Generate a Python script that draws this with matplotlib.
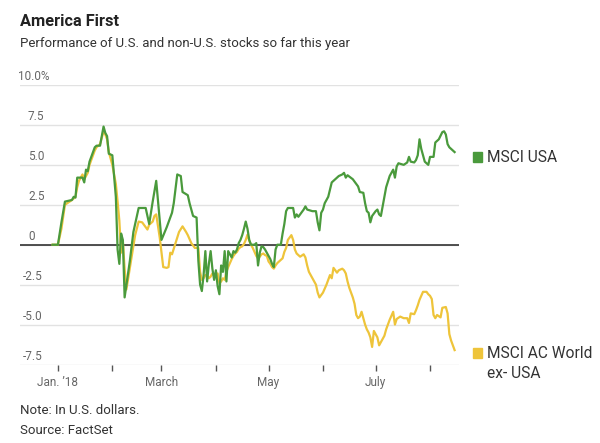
import pandas as pd
import matplotlib
matplotlib.use('Agg')
import matplotlib.pyplot as plt
import matplotlib.transforms as mtransforms

plt.rcParams['font.family'] = ['Roboto', 'DejaVu Sans']

# days counted from Jan. 1, 2018
usa_days = [-3, 0, 2, 4, 8, 9, 10, 11, 14, 15, 16, 17, 18, 21, 22, 24, 26, 27, 28, 29,
            31, 33, 34, 35, 36, 37, 38, 41, 43, 46, 50, 52, 54, 56, 59, 62, 65, 66, 68,
            70, 71, 74, 75, 77, 79, 80, 81, 82, 83, 84, 85, 86, 87, 88, 89, 90, 91, 92,
            93, 94, 95, 96, 97, 98, 99, 100, 101, 102, 103, 104, 105, 106, 107, 108, 109,
            110, 111, 112, 113, 114, 115, 116, 117, 118, 119, 120, 121, 122, 123, 124, 125,
            126, 127, 128, 129, 130, 131, 134, 135, 136, 137, 140, 141, 142, 145, 147, 148,
            149, 150, 151, 152, 154, 156, 158, 160, 162, 163, 164, 165, 168, 170, 171, 172,
            174, 175, 176, 177, 178, 179, 181, 182, 183, 184, 185, 187, 189, 191, 192, 193,
            194, 197, 199, 200, 201, 203, 204, 205, 206, 207, 209, 211, 212, 214, 215, 217,
            219, 220, 221, 222, 223, 226]
usa_vals = [0.0, 0.0, 1.4, 2.7, 2.8, 3.0, 2.95, 4.2, 4.2, 3.9, 4.7, 4.6, 5.2, 6.1, 6.2, 6.2,
            7.4, 7.0, 6.8, 5.7, 5.6, 3.0, -0.3, -1.2, 0.7, 0.3, -3.3, -1.0, 0.8, 2.3, 2.3, 1.3,
            2.7, 4.0, 0.3, 1.1, 2.0, 2.6, 4.4, 4.3, 3.3, 3.1, 2.6, 1.8, 1.7, -1.0, -2.5, -2.9,
            -1.9, -0.4, -2.3, -1.2, -0.4, -1.5, -2.2, -1.6, -2.6, -3.1, -1.3, -1.7, -0.4, -2.3,
            -0.4, -0.6, -0.8, -0.4, -0.5, -0.3, 0.1, 0.3, 0.6, 1.0, 1.45, 1.0, 0.3, 0.0, 0.0,
            0.0, 0.1, -1.3, -0.5, -0.1, -0.15, -0.3, -0.5, -0.7, -0.9, -1.2, -1.4, -0.3, 0.0,
            0.0, 0.0, 0.7, 1.3, 2.1, 2.3, 2.3, 1.7, 1.9, 1.75, 2.2, 2.4, 2.2, 2.1, 2.1, 1.4,
            0.9, 2.0, 2.2, 2.6, 3.0, 3.9, 4.1, 4.3, 4.4, 4.5, 4.2, 4.35, 4.1, 3.8, 3.65, 3.3,
            3.25, 2.6, 2.1, 2.0, 1.4, 1.8, 2.1, 2.2, 1.9, 1.8, 2.4, 3.6, 4.3, 4.7, 4.2, 4.9,
            5.1, 5.0, 5.15, 5.5, 5.2, 5.15, 5.3, 5.6, 6.6, 6.0, 5.2, 5.0, 5.5, 5.5, 6.4, 6.6,
            7.05, 7.1, 6.9, 6.3, 6.1, 5.8]

world_days = [-3, 0, 2, 4, 8, 10, 11, 12, 14, 15, 17, 18, 21, 22, 24, 26, 27, 28, 29, 31,
              33, 34, 35, 36, 37, 38, 39, 44, 46, 48, 50, 51, 52, 54, 55, 56, 58, 60, 62, 63,
              64, 65, 67, 69, 71, 73, 74, 76, 78, 80, 81, 82, 83, 84, 85, 86, 87, 88, 89, 90,
              91, 92, 93, 94, 95, 96, 97, 98, 99, 100, 101, 102, 103, 104, 105, 106, 107, 108,
              109, 110, 111, 112, 113, 114, 115, 116, 117, 118, 119, 120, 121, 122, 123, 124,
              125, 126, 127, 128, 129, 130, 131, 133, 134, 135, 136, 138, 140, 141, 142, 143,
              145, 147, 148, 149, 151, 153, 155, 156, 157, 159, 160, 162, 163, 164, 165, 166,
              168, 169, 170, 171, 172, 173, 174, 175, 176, 177, 178, 179, 180, 181, 182, 183,
              184, 185, 186, 187, 188, 189, 191, 192, 193, 195, 197, 199, 200, 201, 203, 204,
              205, 206, 208, 210, 211, 212, 213, 214, 215, 216, 218, 219, 221, 222, 223, 224,
              225, 226]
world_vals = [0.0, 0.0, 1.0, 2.5, 2.8, 3.0, 3.6, 4.0, 4.4, 4.1, 4.5, 5.0, 5.9, 6.1, 6.3,
              7.1, 6.9, 6.6, 5.8, 5.0, 3.8, 2.7, 1.5, -0.5, 0.2, -1.5, -2.8, 0.6, 1.45, 1.4,
              1.1, 0.95, 1.25, 1.45, 1.8, 1.9, 0.45, -1.4, -1.45, -1.4, -0.5, -0.6, 0.1, 0.8,
              1.15, 0.8, 0.6, 0.1, -0.2, -0.2, -1.7, -2.2, -2.1, -1.9, -1.9, -2.1, -2.0, -1.8,
              -1.9, -1.85, -1.8, -2.4, -2.3, -2.1, -2.2, -1.7, -1.4, -1.15, -0.9, -0.7, -0.55,
              -0.45, -0.25, -0.15, -0.1, 0.05, 0.3, 0.63, 0.25, 0.0, -0.2, -0.45, -0.7, -0.85,
              -0.75, -0.6, -0.55, -0.65, -0.7, -1.05, -1.2, -1.4, -1.5, -1.3, -1.15, -1.05,
              -0.95, -0.85, -0.45, -0.2, 0.3, 0.6, 0.3, -0.3, -0.55, -0.75, -0.6, -0.8, -1.3,
              -1.7, -2.1, -2.5, -3.0, -3.3, -3.0, -2.5, -1.9, -2.1, -1.45, -1.75, -1.6, -1.5,
              -1.6, -1.8, -2.3, -2.7, -3.3, -3.7, -4.4, -4.6, -4.5, -4.2, -4.6, -5.0, -5.3,
              -5.5, -5.8, -6.4, -5.4, -5.6, -5.8, -6.3, -6.1, -5.9, -5.7, -5.3, -5.0, -4.7,
              -4.2, -5.0, -4.65, -4.5, -4.6, -4.6, -4.9, -4.3, -4.35, -4.1, -3.8, -3.45, -2.95,
              -2.95, -3.1, -3.2, -3.4, -4.4, -4.6, -4.4, -4.55, -3.95, -3.9, -4.3, -5.6, -6.0,
              -6.3, -6.6]

y_ticks = [-7.5, -5.0, -2.5, 0, 2.5, 5.0, 7.5, 10.0]
y_labels = ['-7.5', '-5.0', '-2.5', '0', '2.5', '5.0', '7.5', '10.0%']
month_ticks = ['2018-01-01', '2018-02-01', '2018-03-01', '2018-04-01',
               '2018-05-01', '2018-06-01', '2018-07-01', '2018-08-01']
month_labels = ['Jan. \u201918', '', 'March', '', 'May', '', 'July', '']

green = '#4a9a3c'
yellow = '#eec43a'
gray = '#666666'

start = pd.Timestamp('2018-01-01')
usa_dates = start + pd.to_timedelta(usa_days, unit='D')
world_dates = start + pd.to_timedelta(world_days, unit='D')

fig = plt.figure(figsize=(6, 4.43), dpi=100)
ax = fig.add_axes([20 / 600, 1 - 364.5 / 443, 439 / 600, 279.5 / 443])

for v in y_ticks:
    ax.axhline(v, color='#e2e2e2', lw=1, zorder=0)
ax.axhline(0, color='#333333', lw=1.2, zorder=3)

ax.plot(world_dates, world_vals, color=yellow, lw=1.6, zorder=4)
ax.plot(usa_dates, usa_vals, color=green, lw=1.6, zorder=5)

ax.set_xlim(start - pd.Timedelta(days=21.6), start + pd.Timedelta(days=228.5))
ax.set_ylim(-7.5, 10.0)

for s in ax.spines.values():
    s.set_visible(False)
ax.set_yticks([])
ax.set_xticks(pd.to_datetime(month_ticks))
ax.set_xticklabels(month_labels)
ax.tick_params(axis='x', length=4, width=1, color='#555555', pad=4,
               labelsize=8.5, labelcolor=gray)

# y labels sit above the gridlines; minus signs hang to the left
trans = mtransforms.blended_transform_factory(fig.transFigure, ax.transData)
for v, lab in zip(y_ticks, y_labels):
    if lab.endswith('%'):
        xpx = 18
    elif lab.startswith('-'):
        xpx = 23
    else:
        xpx = 28
    ax.text(xpx / 600, v + 0.12, lab, transform=trans, ha='left', va='bottom',
            fontsize=8.5, color=gray)

# legend labels beside the chart
fig.patches.append(plt.Rectangle((473 / 600, 1 - 162 / 443), 9 / 600, 10 / 443,
                                 transform=fig.transFigure, color=green))
fig.text(487 / 600, 1 - 157 / 443, 'MSCI USA', fontsize=11.2, color='#333333', va='center')
fig.patches.append(plt.Rectangle((473 / 600, 1 - 358 / 443), 9 / 600, 10 / 443,
                                 transform=fig.transFigure, color=yellow))
fig.text(487 / 600, 1 - 354 / 443, 'MSCI AC World', fontsize=11.2, color='#333333', va='center')
fig.text(487 / 600, 1 - 373 / 443, 'ex- USA', fontsize=11.2, color='#333333', va='center')

fig.text(20 / 600, 1 - 21 / 443, 'America First', fontsize=11.8, fontweight='bold',
         color='#222222', va='center')
fig.text(20 / 600, 1 - 44 / 443, 'Performance of U.S. and non-U.S. stocks so far this year',
         fontsize=9.5, color='#333333', va='center')
fig.text(20 / 600, 1 - 410 / 443, 'Note: In U.S. dollars.', fontsize=9.5, color='#333333', va='center')
fig.text(20 / 600, 1 - 430 / 443, 'Source: FactSet', fontsize=9.5, color='#333333', va='center')

fig.savefig('out.png', dpi=100)
